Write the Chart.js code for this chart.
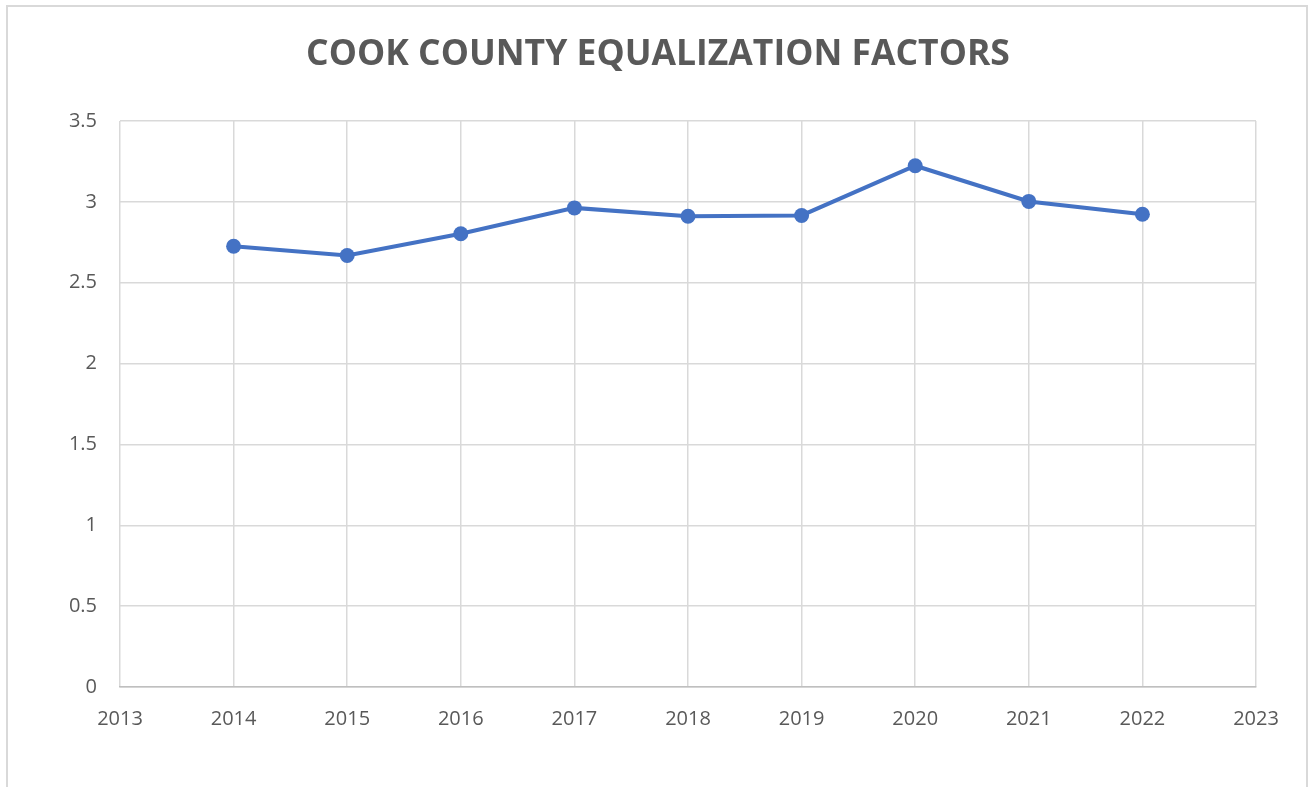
<!DOCTYPE html>
<html>
<head>
<meta charset="utf-8">
<script src="https://cdn.jsdelivr.net/npm/chart.js@4"></script>
<style>
  html, body { margin: 0; padding: 0; background: #fff; overflow: hidden; }
  #frame {
    position: absolute; left: 6px; top: 5px; width: 1298px; height: 800px;
    border: 2px solid #d9d9d9;
  }
  #wrap { position: absolute; left: 0; top: 0; width: 1312px; height: 787px; }
</style>
</head>
<body>
<div id="frame"></div>
<div id="wrap"><canvas id="chart" width="1312" height="787"></canvas></div>
<script>
// Cook County equalization factors by year
const years = [2014, 2015, 2016, 2017, 2018, 2019, 2020, 2021, 2022];
const factors = [2.7253, 2.6685, 2.8032, 2.9627, 2.9109, 2.916, 3.2234, 3.0027, 2.9237];
const titleText = "COOK COUNTY EQUALIZATION FACTORS";

const textColor = "#595959";
const gridColor = "#d9d9d9";
const lineColor = "#4472c4";

const ctx = document.getElementById("chart").getContext("2d");

new Chart(ctx, {
  type: "line",
  data: {
    datasets: [
      {
        label: "Equalization Factor",
        data: years.map((y, i) => ({ x: y, y: factors[i] })),
        borderColor: lineColor,
        backgroundColor: lineColor,
        borderWidth: 4,
        pointRadius: 7.5,
        pointHoverRadius: 7.5,
        pointBorderWidth: 0,
        tension: 0,
      },
    ],
  },
  options: {
    responsive: false,
    animation: false,
    // left padding keeps the title centred on the whole frame
    layout: { padding: { top: 34, right: 56, bottom: 0, left: 60 } },
    plugins: {
      legend: { display: false },
      tooltip: { enabled: false },
      title: {
        display: true,
        text: titleText,
        color: textColor,
        font: { family: "'Open Sans'", size: 35.5, weight: "bold", lineHeight: 1.2 },
        padding: { top: 0, bottom: 44.4 },
      },
    },
    scales: {
      x: {
        type: "linear",
        min: 2013,
        max: 2023,
        afterFit: (s) => { s.height = 100; },
        ticks: {
          stepSize: 1,
          color: textColor,
          padding: 20,
          font: { family: "'Open Sans'", size: 20 },
          callback: (v) => String(v),
        },
        grid: { color: gridColor, lineWidth: 1.5, drawTicks: false },
        border: { color: "#bfbfbf", width: 1.5 },
      },
      y: {
        min: 0,
        max: 3.5,
        afterFit: (s) => { s.width = 60; },
        ticks: {
          stepSize: 0.5,
          color: textColor,
          padding: 23,
          font: { family: "'Open Sans'", size: 20 },
          callback: (v) => String(v),
        },
        grid: { color: gridColor, lineWidth: 1.5, drawTicks: false },
        border: { display: false },
      },
    },
  },
});
</script>
</body>
</html>
